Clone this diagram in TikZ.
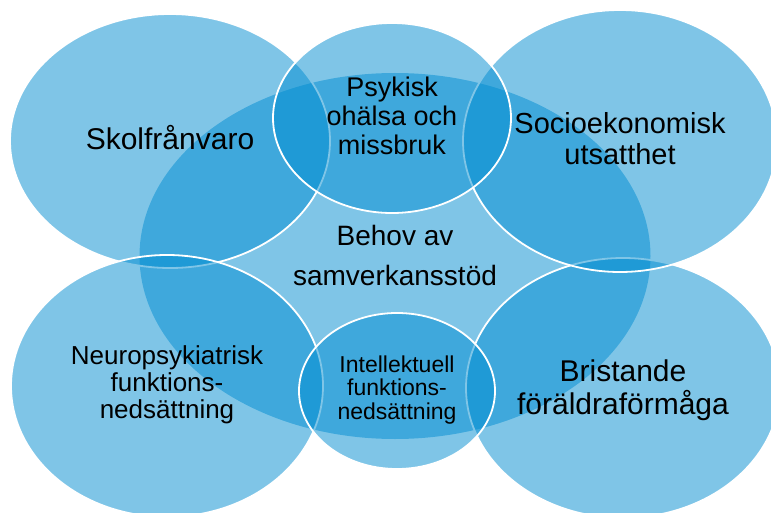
\documentclass[tikz,border=0pt]{standalone}
\usepackage{fontspec}
\setmainfont{Liberation Sans}
\usetikzlibrary{shapes.geometric}
\definecolor{vennblue}{RGB}{0,140,208}
\tikzset{
  blob/.style={ellipse, inner sep=0pt, fill=vennblue, fill opacity=0.5, draw=white, line width=1.8pt},
  core/.style={ellipse, inner sep=0pt, fill=vennblue, fill opacity=0.5},
  lbl/.style={align=center, text=black, inner sep=0pt},
}
\begin{document}
\begin{tikzpicture}[x=1pt,y=-1pt]
\useasboundingbox (0,0) rectangle (771,513);
\clip (0,0) rectangle (771,513);
\node[core, minimum width=511pt, minimum height=366pt] (core) at (395,256) {};
\node[blob, minimum width=320pt, minimum height=254pt] (skol) at (170,141) {};
\node[blob, minimum width=314pt, minimum height=260pt] (brist) at (623,388) {};
\node[blob, minimum width=312pt, minimum height=262pt] (neuro) at (167,386) {};
\node[blob, minimum width=314pt, minimum height=262pt] (socio) at (620,141) {};
\node[blob, minimum width=238pt, minimum height=190pt] (psyk) at (392,118) {};
\node[blob, minimum width=196pt, minimum height=156pt] (intel) at (397,391) {};
\node[lbl, font=\fontsize{30}{32}\selectfont] (tskol) at (170,138) {Skolfrånvaro};
\node[lbl, font=\fontsize{27}{29}\selectfont] (tpsyk) at (392,116) {Psykisk\\ohälsa och\\missbruk};
\node[lbl, font=\fontsize{29}{31}\selectfont] (tsocio) at (620,139) {Socioekonomisk\\utsatthet};
\node[lbl, font=\fontsize{28}{40}\selectfont] (tcore) at (395,255) {Behov av\\samverkansstöd};
\node[lbl, font=\fontsize{26}{27}\selectfont] (tneuro) at (167,385) {Neuropsykiatrisk\\funktions-\\nedsättning};
\node[lbl, font=\fontsize{23}{23.5}\selectfont] (tintel) at (397,390) {Intellektuell\\funktions-\\nedsättning};
\node[lbl, font=\fontsize{30}{33}\selectfont] (tbrist) at (623,390) {Bristande\\föräldraförmåga};
\end{tikzpicture}
\end{document}
